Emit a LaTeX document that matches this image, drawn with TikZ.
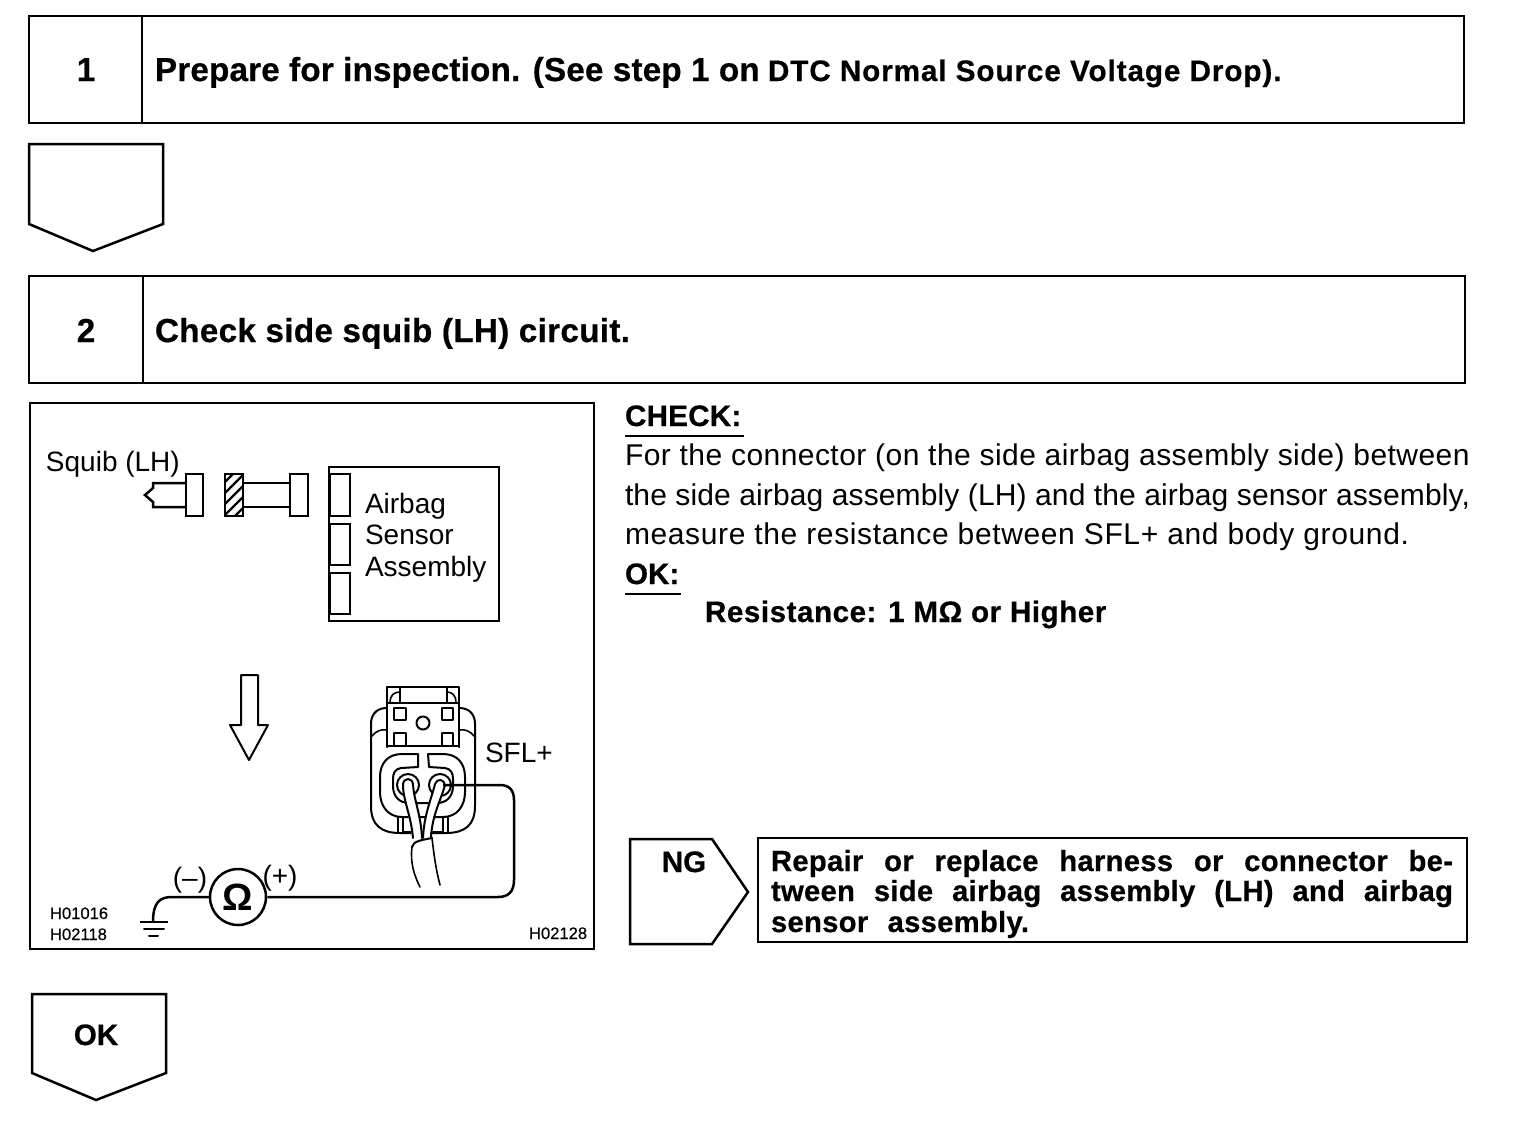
\documentclass[tikz,border=0pt]{standalone}
\usepackage{fontspec}
\setmainfont{Liberation Sans}
\newcommand{\ftbig}{\fontsize{16.6}{19}\selectfont\bfseries\addfontfeatures{FakeBold=0.6}}
\newcommand{\ftmid}{\fontsize{14.8}{15}\selectfont\bfseries\addfontfeatures{FakeBold=0.6}}
\newcommand{\ftbody}{\fontsize{15}{19.6}\selectfont}
\newcommand{\ftlab}{\fontsize{14}{15.6}\selectfont}
\newcommand{\ftcode}{\fontsize{8.3}{10}\selectfont\addfontfeatures{FakeBold=0.4}}
\newcommand{\ftrep}{\fontsize{14.6}{15.1}\selectfont\bfseries\addfontfeatures{FakeBold=0.6,LetterSpace=1}}
\tikzset{
 x=0.5pt,y=-0.5pt,
 heavy/.style={draw=black,line width=1.25pt,line join=miter},
 thin line/.style={draw=black,line width=0.8pt,line join=round,line cap=round},
 med line/.style={draw=black,line width=1pt,line join=round,line cap=round},
 txt/.style={anchor=base west,inner sep=0pt,outer sep=0pt,text=black},
 ctr/.style={anchor=base,inner sep=0pt,outer sep=0pt,text=black},
}
\begin{document}
\begin{tikzpicture}
\useasboundingbox (0,0) rectangle (1520,1120);
\fill[white] (0,0) rectangle (1520,1120);
% step boxes
\draw[heavy] (29,16) rectangle (1464,123);
\draw[heavy] (142,16) -- (142,123);
\node[ctr] (n1) at (86,81) {\ftbig 1};
\node[txt] (t1) at (155,81) {\ftbig\addfontfeatures{LetterSpace=0.55}Prepare for inspection. (See step 1 on};
\node[txt] (t1b) at (768,81) {\ftmid\addfontfeatures{LetterSpace=3.2}DTC Normal Source Voltage Drop).};
\draw[heavy] (29,144) -- (163,144) -- (163,224) -- (93,251) -- (29,224) -- cycle;
\draw[heavy] (29,276) rectangle (1465,383);
\draw[heavy] (143,276) -- (143,383);
\node[ctr] (n2) at (86,342) {\ftbig 2};
\node[txt] (t2) at (155,342) {\ftbig\addfontfeatures{LetterSpace=1}Check side squib (LH) circuit.};
% figure frame
\draw[heavy] (30,403) rectangle (594,949);
\node[txt] (squib) at (46,471) {\ftlab Squib (LH)};
% squib connector
\draw[heavy,fill=white] (186,483) -- (153,483) -- (153,488) -- (145,495) -- (153,502) -- (153,507) -- (186,507);
\draw[heavy] (186,474) rectangle (203,516);
\begin{scope}
\clip (225,474) rectangle (243,516);
\foreach \k in {0,11,22,33,44}{\draw[black,line width=1.1pt] (225,482+\k) -- (243,464+\k);}
\end{scope}
\draw[heavy] (225,474) rectangle (243,516);
\draw[heavy] (243,483) -- (290,483) (243,507) -- (290,507);
\draw[heavy] (290,474) rectangle (308,516);
% airbag box
\draw[heavy] (329,467) rectangle (499,621);
\draw[heavy] (330,474) rectangle (350,516);
\draw[heavy] (330,524) rectangle (350,565);
\draw[heavy] (330,573) rectangle (350,614);
\node[txt] (air1) at (365,513) {\ftlab Airbag};
\node[txt] (air2) at (365,544) {\ftlab Sensor};
\node[txt] (air3) at (365,576) {\ftlab Assembly};
% hollow arrow
\draw[med line] (241,675) -- (258,675) -- (258,725) -- (268,725) -- (249,760) -- (230,725) -- (241,725) -- cycle;
% connector: outer shell
\draw[med line] (387,708) -- (385,708) .. controls (375,709) and (371,716) .. (371,724) -- (371,806) .. controls (371,825) and (381,833) .. (400,833) -- (446,833) .. controls (465,833) and (475,825) .. (475,806) -- (475,724) .. controls (475,716) and (471,709) .. (461,708) -- (459,708);
\draw[thin line] (372,736) .. controls (376,731) and (381,729) .. (387,730);
\draw[thin line] (474,736) .. controls (470,731) and (465,729) .. (459,730);
% connector: top latch
\draw[med line] (387,747) -- (387,687) -- (459,687) -- (459,747);
\draw[med line] (387,703) -- (459,703);
\draw[thin line] (400,687) -- (400,703) (447,687) -- (447,703);
\draw[thin line] (390,703) .. controls (390,695) and (394,692) .. (400,692);
\draw[thin line] (456,703) .. controls (456,695) and (452,692) .. (447,692);
\draw[med line] (394,708) rectangle (406,720);
\draw[med line] (442,708) rectangle (453,720);
\draw[med line] (423,723) circle (6.5);
\draw[med line] (394,746) -- (394,733) -- (406,733) -- (406,746);
\draw[med line] (442,746) -- (442,733) -- (453,733) -- (453,746);
\draw[med line] (387,746) -- (459,746);
% connector: socket
\draw[med line] (418,754) -- (402,754) .. controls (388,754) and (380,763) .. (380,777) -- (380,792) .. controls (380,806) and (388,817) .. (402,817) -- (443,817) .. controls (457,817) and (465,806) .. (465,792) -- (465,777) .. controls (465,763) and (457,754) .. (443,754) -- (428,754);
\draw[med line] (418,754) -- (418,767) -- (401,768) .. controls (395,769) and (393,773) .. (393,779) -- (393,786) .. controls (393,796) and (399,803) .. (409,803) -- (437,803) .. controls (447,803) and (453,796) .. (453,786) -- (453,779) .. controls (453,773) and (451,769) .. (445,768) -- (429,767) -- (428,754);
\draw[med line] (398,817) -- (398,832) (448,817) -- (448,832) (398,817) -- (398,832);
\draw[thin line] (403,817) -- (403,832) -- (412,832) (443,817) -- (443,832) -- (433,832);
\draw[med line] (408,785) circle (11);
\draw[med line] (440,785) circle (11);
% wires
\path[fill=white] (402,785) .. controls (403,776) and (413,776) .. (413,785) .. controls (414,800) and (421,815) .. (422,838) -- (412,838) .. controls (410,815) and (403,800) .. (402,785);
\path[fill=white] (434,784) .. controls (436,778) and (444,778) .. (445,785) .. controls (440,800) and (431,815) .. (430,838) -- (422,838) .. controls (423,815) and (431,800) .. (434,784);
\draw[med line] (413,838) .. controls (411,815) and (403,800) .. (403,785) .. controls (403,777) and (413,777) .. (413,785) .. controls (414,800) and (421,815) .. (422,838);
\draw[med line] (423,838) .. controls (424,815) and (431,800) .. (435,784) .. controls (437,778) and (444,779) .. (445,785) .. controls (441,800) and (432,815) .. (431,838);
% sheath
\draw[med line] (412,847) .. controls (413,841) and (422,840) .. (432,838);
\draw[thin line] (412,847) .. controls (410,862) and (414,875) .. (420,887);
\draw[thin line] (432,838) .. controls (434,855) and (436,870) .. (440,885);
\node[txt] (sfl) at (485,762) {\ftlab SFL+};
% meter wire
\node[draw=black,line width=1.25pt,circle,minimum size=28pt,inner sep=0pt,fill=white] (ohm) at (238,897) {\fontsize{19}{19}\selectfont\bfseries Ω};
\coordinate (pin) at (443,785);
\draw[heavy] (pin) -- (500,785) .. controls (510,785) and (514,791) .. (514,800) -- (514,880) .. controls (514,892) and (508,897) .. (498,897) -- (ohm.east);
\draw[heavy] (ohm.west) -- (172,897) .. controls (160,897) and (153,902) .. (153,922);
\draw[heavy] (140,922) -- (168,922);
\draw[med line] (144,929) -- (164,929);
\draw[med line] (149,936) -- (158,936);
\node[ctr] (minus) at (190,887) {\ftlab(–)};
\node[ctr] (plus) at (280,885) {\ftlab(+)};
\node[txt] (c1) at (50,919) {\ftcode H01016};
\node[txt] (c2) at (50,940) {\ftcode H02118};
\node[txt] (c3) at (529,939) {\ftcode H02128};
% right column
\node[txt] (chk) at (625,426) {\ftmid\addfontfeatures{LetterSpace=0.8}CHECK:};
\draw[heavy] (625,436) -- (744,436);
\node[txt] (b1) at (625,465) {\ftbody\addfontfeatures{LetterSpace=1.5}For the connector (on the side airbag assembly side) between};
\node[txt] (b2) at (625,505) {\ftbody\addfontfeatures{LetterSpace=0.45}the side airbag assembly (LH) and the airbag sensor assembly,};
\node[txt] (b3) at (625,544) {\ftbody\addfontfeatures{LetterSpace=2.1}measure the resistance between SFL+ and body ground.};
\node[txt] (ok) at (625,584) {\ftmid OK:};
\draw[heavy] (625,594) -- (681,594);
\node[txt] (res) at (705,622) {\ftmid\addfontfeatures{LetterSpace=1.8}Resistance: 1 MΩ or Higher};
% NG
\draw[heavy] (630,839) -- (712,839) -- (748,892) -- (712,944) -- (630,944) -- cycle;
\node[ctr] (ng) at (684,872) {\ftmid NG};
\draw[heavy] (758,838) rectangle (1467,942);
\node[txt] (r1) at (771,871) {\ftrep\makebox[341pt][s]{Repair or replace harness or connector be-}};
\node[txt] (r2) at (771,901) {\ftrep\makebox[341pt][s]{tween side airbag assembly (LH) and airbag}};
\node[txt] (r3) at (771,932) {\ftrep\makebox[129pt][s]{sensor assembly.}};
% OK pentagon
\draw[heavy] (32,994) -- (166,994) -- (166,1073) -- (96,1100) -- (32,1073) -- cycle;
\node[ctr] (okb) at (96,1045) {\ftmid OK};
\end{tikzpicture}
\end{document}
